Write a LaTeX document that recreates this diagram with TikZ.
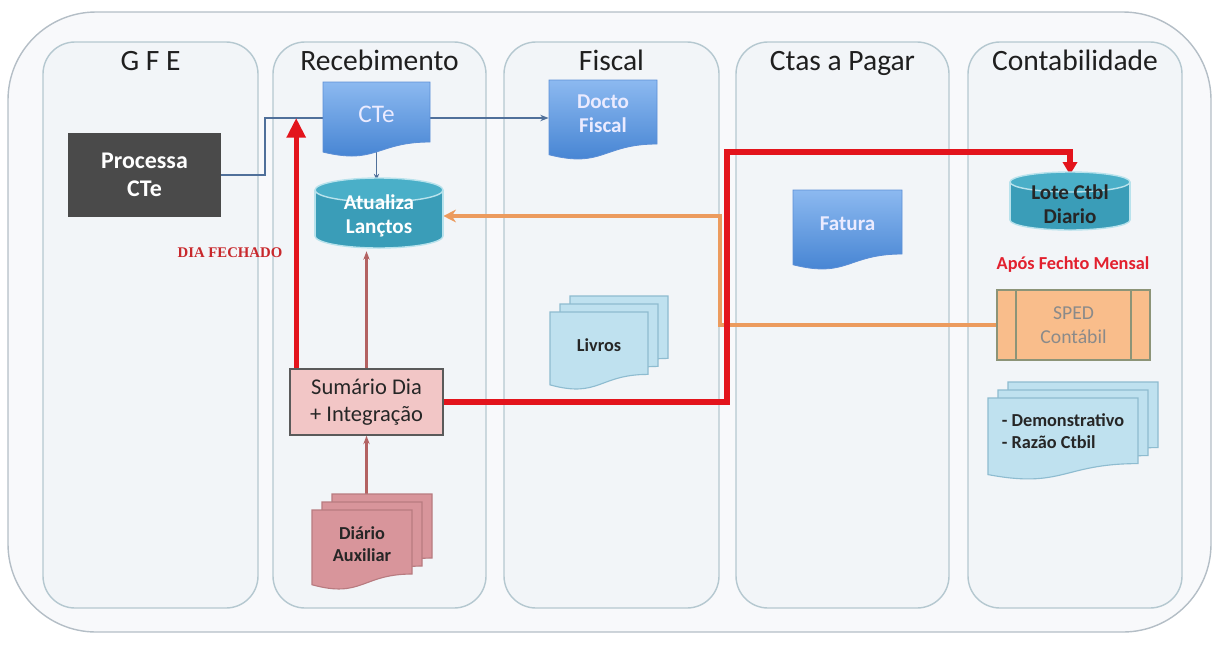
\documentclass[tikz,border=0pt]{standalone}
\usepackage{fontspec}
\setmainfont{Carlito}
\newfontfamily\timesfont{Liberation Serif}
\usetikzlibrary{arrows.meta,calc}

\definecolor{outerFill}{HTML}{F8F9FB}
\definecolor{outerLine}{HTML}{B4BEC6}
\definecolor{laneFill}{HTML}{F2F5F8}
\definecolor{laneLine}{HTML}{B5C8D0}
\definecolor{docTop}{HTML}{8CB9F0}
\definecolor{docBot}{HTML}{3F7FD0}
\definecolor{docLine}{HTML}{5C8FD6}
\definecolor{cylFill}{HTML}{3A9DB8}
\definecolor{cylTop}{HTML}{4AAFC8}
\definecolor{cylEdge}{HTML}{B8E2EC}
\definecolor{procFill}{HTML}{4A4A4A}
\definecolor{sumFill}{HTML}{F2C6C6}
\definecolor{sumLine}{HTML}{5A5A5A}
\definecolor{diarFill}{HTML}{D8959B}
\definecolor{diarLine}{HTML}{B87B80}
\definecolor{pageFill}{HTML}{BFE1EF}
\definecolor{pageLine}{HTML}{8EBCD0}
\definecolor{spedFill}{HTML}{F9BD8B}
\definecolor{spedLine}{HTML}{8C9478}
\definecolor{spedText}{HTML}{8A8A8A}
\definecolor{redArrow}{HTML}{E3141C}
\definecolor{orangeLine}{HTML}{EC9B5E}
\definecolor{blueLine}{HTML}{50709A}
\definecolor{brownLine}{HTML}{B36262}
\definecolor{diaRed}{HTML}{C8282C}
\definecolor{aposRed}{HTML}{E2202E}

\pgfdeclarelayer{lanes}
\pgfdeclarelayer{links}
\pgfsetlayers{lanes,links,main}

\tikzset{
  outerbox/.style={draw=outerLine, line width=1pt, fill=outerFill, rounded corners=2.2cm},
  lane/.style={draw=laneLine, line width=1pt, fill=laneFill, rounded corners=0.8cm},
  lanetitle/.style={font=\fontsize{21}{23}\selectfont, text=black!88, anchor=base},
  procbox/.style={fill=procFill, text=white, font=\bfseries\fontsize{17}{20}\selectfont,
    minimum width=3.83cm, minimum height=2.1cm, align=center, inner sep=0pt},
  sumbox/.style={fill=sumFill, draw=sumLine, line width=1pt, text=black!85,
    font=\fontsize{16}{19}\selectfont, minimum width=3.83cm, minimum height=1.65cm,
    align=center, inner sep=0pt},
  spedbox/.style={fill=spedFill, draw=spedLine, line width=1pt, text=spedText,
    font=\fontsize{14}{17}\selectfont, minimum width=3.83cm, minimum height=1.75cm,
    align=center, inner sep=0pt},
  docblue/.style={top color=docTop, bottom color=docBot, draw=docLine, line width=0.6pt},
  pageblue/.style={fill=pageFill, draw=pageLine, line width=0.8pt},
  pagerose/.style={fill=diarFill, draw=diarLine, line width=0.8pt},
  cylbody/.style={fill=cylFill, draw=cylEdge, line width=1pt},
  cyltop/.style={fill=cylTop, draw=cylEdge, line width=1pt},
  doctxt/.style={text=white!92!blue, font=\fontsize{18}{20}\selectfont},
  doctxtb/.style={text=white!92!blue, font=\bfseries\fontsize{15}{17}\selectfont},
  cyltxtw/.style={text=white, font=\bfseries\fontsize{15}{17}\selectfont},
  cyltxtd/.style={text=black!85, font=\bfseries\fontsize{15}{17}\selectfont},
  pagetxt/.style={text=black!85, font=\bfseries\fontsize{13}{16}\selectfont},
  apos/.style={text=aposRed, font=\bfseries\fontsize{13}{15}\selectfont},
  diafech/.style={text=diaRed, font=\timesfont\bfseries\fontsize{10.5}{12}\selectfont},
  redline/.style={draw=redArrow, line width=3.6pt},
  orangeline/.style={draw=orangeLine, line width=2.8pt},
  blueline/.style={draw=blueLine, line width=1pt},
  brownline/.style={draw=brownLine, line width=1.5pt, -{Stealth[length=6pt]}},
}

% Folha com base ondulada: estilo, x, y, largura, altura (em px)
\newcommand{\docpage}[5]{%
  \path[#1] (#2,#3) -- ({#2+#4},#3) -- ({#2+#4},{#3+0.8*#5})
    .. controls ({#2+0.5*#4},{#3+0.8*#5}) and ({#2+0.5*#4},{#3+1.107*#5}) .. (#2,{#3+0.934*#5}) -- cycle;}
% Documento com nome: nome, estilo folha, estilo texto, x, y, largura, altura, texto
\newcommand{\docnode}[8]{%
  \docpage{#2}{#4}{#5}{#6}{#7}
  \node[#3, align=center, inner sep=0pt, minimum width={#6*0.025cm}, minimum height={0.85*#7*0.025cm}]
    (#1) at ({#4+0.5*#6},{#5+0.425*#7}) {#8};}
% Pilha de tres folhas
\newcommand{\multidoc}[8]{%
  \docpage{#2}{#4+20}{#5-16}{#6}{#7}
  \docpage{#2}{#4+10}{#5-8}{#6}{#7}
  \docnode{#1}{#2}{#3}{#4}{#5}{#6}{#7}{#8}}
% Cilindro: nome, estilo texto, x, y, largura, altura, raio y, texto
\newcommand{\cylnode}[8]{%
  \path[cylbody] ({#3+0.5*#5},{#4+#6-#7}) ellipse [x radius={0.5*#5*0.025cm}, y radius={#7*0.025cm}];
  \fill[cylFill] (#3,{#4+#7}) rectangle ({#3+#5},{#4+#6-#7});
  \draw[cylEdge, line width=1pt] (#3,{#4+#7}) -- (#3,{#4+#6-#7}) ({#3+#5},{#4+#7}) -- ({#3+#5},{#4+#6-#7});
  \path[cyltop] ({#3+0.5*#5},{#4+#7}) ellipse [x radius={0.5*#5*0.025cm}, y radius={#7*0.025cm}];
  \node[#2, align=center, inner sep=0pt, minimum width={#5*0.025cm}, minimum height={#6*0.025cm}]
    (#1) at ({#3+0.5*#5},{#4+0.5*#6+3}) {#8};}

\begin{document}
\begin{tikzpicture}[x=0.025cm, y=-0.025cm]
  \useasboundingbox (0,0) rectangle (1216,646);

  % Raias
  \begin{pgfonlayer}{lanes}
    \draw[outerbox] (8,12) rectangle (1211,632);
    \foreach \xa/\xb/\titulo [count=\i] in {
      43/258/{G F E},
      273/486/Recebimento,
      504/719/Fiscal,
      736/949/{Ctas a Pagar},
      968/1182/Contabilidade%
    } {
      \draw[lane] (\xa,42) rectangle (\xb,608);
      \node[lanetitle] (titulo\i) at ({(\xa+\xb)/2},70) {\titulo};
    }
  \end{pgfonlayer}

  % Elementos
  \node[procbox] (proc) at (144.5,175) {Processa\\CTe};
  \docnode{cte}{docblue}{doctxt}{323}{82}{107}{75}{CTe}
  \docnode{docto}{docblue}{doctxtb}{549}{80}{108}{80}{Docto\\Fiscal}
  \docnode{fatura}{docblue}{doctxtb}{793}{190}{109}{80}{Fatura}
  \cylnode{atual}{cyltxtw}{315}{178}{128}{70}{12}{Atualiza\\Lançtos}
  \cylnode{lote}{cyltxtd}{1010}{172}{120}{58}{10}{Lote Ctbl\\Diario}
  \node[apos] (apos) at (1073,265) {Após Fechto Mensal};
  \node[spedbox] (sped) at (1073.5,325) {SPED\\Contábil};
  \draw[spedLine, line width=1pt] ([xshift=0.5cm]sped.north west) -- ([xshift=0.5cm]sped.south west)
    ([xshift=-0.5cm]sped.north east) -- ([xshift=-0.5cm]sped.south east);
  \multidoc{demo}{pageblue}{pagetxt}{988}{398}{150}{82}{\begin{tabular}{@{}l@{}}- Demonstrativo\\- Razão Ctbil\end{tabular}}
  \multidoc{livros}{pageblue}{pagetxt}{550}{312}{98}{78}{Livros}
  \node[sumbox] (sum) at (366.5,402) {Sumário Dia\\+ Integração};
  \multidoc{diar}{pagerose}{pagetxt}{312}{510}{100}{80}{Diário\\Auxiliar}
  \node[diafech] (dia) at (230,253) {DIA FECHADO};

  % Ligacoes
  \begin{pgfonlayer}{links}
    \coordinate (ctein) at (265,118);
    \coordinate (rotaR) at (727,152);
    \path (atual.east) ++(277,0) coordinate (rotaO);
    \coordinate (redfoot) at ([xshift=0.175cm]sum.north west);
    \draw[blueline] (proc.east) -| (ctein) -- (ctein -| cte.west);
    \draw[blueline, -{Stealth[length=6pt]}] (cte.east |- ctein) -- (ctein -| docto.west);
    \draw[blueline, -{Stealth[length=5pt]}] (cte.south) -- (cte.south |- atual.north);
    \draw[brownline] (sum.north) -- (sum.north |- atual.south);
    \draw[brownline] (diar.center -| sum.south) -- (sum.south);
    \draw[orangeline, -{Stealth[length=9pt,width=9pt]}] (sped.west) -| (rotaO) -- (atual.east);
    \draw[redline, -{Triangle[length=14pt,width=13pt]}] (redfoot) -- (redfoot |- ctein);
    \draw[redline, -{Triangle[length=9pt,width=10pt]}] (sum.east) -| (rotaR) -| (lote.north);
  \end{pgfonlayer}
\end{tikzpicture}
\end{document}
